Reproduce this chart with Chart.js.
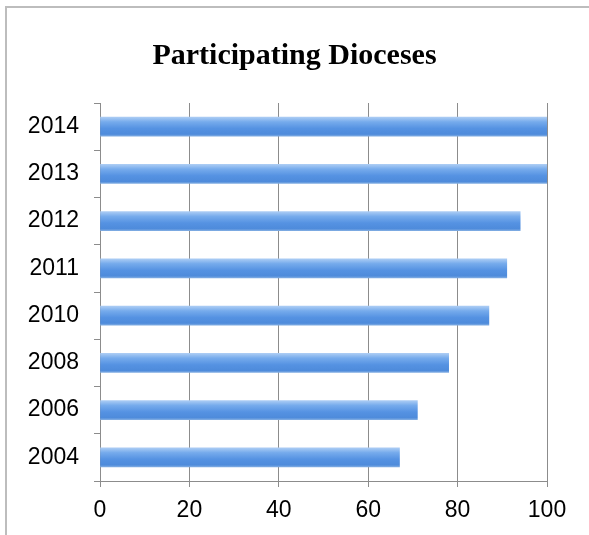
<!DOCTYPE html>
<html>
<head>
<meta charset="utf-8">
<script src="https://cdn.jsdelivr.net/npm/chart.js@4"></script>
<style>
  html, body { margin: 0; padding: 0; background: #fff; overflow: hidden; }
  #frame { position: absolute; left: 5px; top: 6px; width: 800px; height: 800px; border: 2px solid #bdbdbd; }
  #wrap { position: absolute; left: 0; top: 0; width: 589px; height: 535px; }
</style>
</head>
<body>
<div id="frame"></div>
<div id="wrap"><canvas id="c" width="589" height="535"></canvas></div>
<script>
const titleText = 'Participating Dioceses';
const categories = ['2014', '2013', '2012', '2011', '2010', '2008', '2006', '2004'];
const participating = [100, 100, 94, 91, 87, 78, 71, 67];
const xTickValues = [0, 20, 40, 60, 80, 100];

const BAR_T = 19;
function barFill(ctx) {
  const chart = ctx.chart;
  const ys = chart.scales && chart.scales.y;
  if (ctx.type !== 'data' || !ys || ys.top === undefined) return '#5b95e0';
  const c = ys.getPixelForValue(ctx.dataIndex);
  const g = chart.ctx.createLinearGradient(0, c - BAR_T / 2, 0, c + BAR_T / 2);
  g.addColorStop(0, '#abccf4');
  g.addColorStop(0.25, '#76abec');
  g.addColorStop(0.6, '#5592e2');
  g.addColorStop(0.9, '#4e8bdb');
  g.addColorStop(1, '#7eabe2');
  return g;
}

new Chart(document.getElementById('c'), {
  type: 'bar',
  data: {
    labels: categories,
    datasets: [{
      label: titleText,
      data: participating,
      backgroundColor: barFill,
      borderWidth: 0,
      barThickness: BAR_T
    }]
  },
  options: {
    indexAxis: 'y',
    responsive: false,
    animation: false,
    events: [],
    layout: { padding: { left: 0, right: 0, top: 0, bottom: 0 } },
    plugins: {
      legend: { display: false },
      tooltip: { enabled: false },
      title: {
        display: true,
        text: titleText,
        color: '#000',
        font: { family: 'Liberation Serif', size: 30, weight: 'bold' },
        padding: { top: 38, bottom: 29 }
      }
    },
    scales: {
      x: {
        type: 'linear',
        min: 0,
        max: 100,
        afterBuildTicks: (s) => { s.ticks = xTickValues.map(v => ({ value: v })); },
        afterFit: (s) => { s.height = 54; },
        ticks: {
          color: '#000',
          padding: 10,
          font: { family: 'Liberation Sans', size: 23 }
        },
        grid: {
          color: '#8c8c8c',
          lineWidth: 1,
          tickLength: 6,
          drawTicks: true
        },
        border: { display: true, color: '#8c8c8c', width: 1 }
      },
      y: {
        type: 'category',
        afterFit: (s) => { s.width = 100; },
        ticks: {
          color: '#000',
          padding: 15,
          font: { family: 'Liberation Sans', size: 23 }
        },
        grid: {
          offset: true,
          drawOnChartArea: false,
          color: '#8c8c8c',
          tickLength: 6
        },
        border: { display: true, color: '#8c8c8c', width: 1 }
      },
      spacer: {
        type: 'linear',
        axis: 'y',
        position: 'right',
        display: true,
        afterFit: (s) => { s.width = 42; },
        ticks: { display: false },
        grid: { display: false, drawOnChartArea: false },
        border: { display: false }
      }
    }
  }
});
</script>
</body>
</html>
